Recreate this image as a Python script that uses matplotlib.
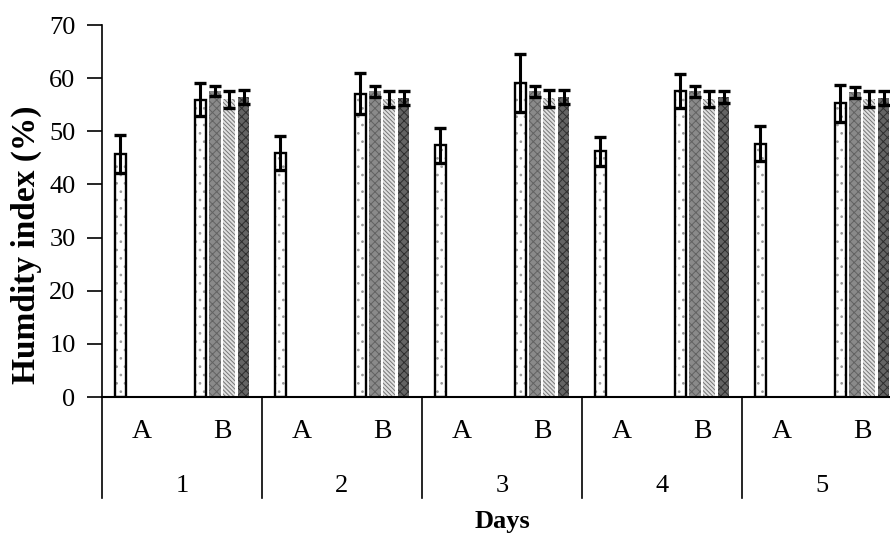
import matplotlib
matplotlib.use("Agg")
import matplotlib.pyplot as plt
import matplotlib.transforms as mtransforms
import numpy as np

plt.rcParams['font.family'] = ['Liberation Serif', 'DejaVu Serif']
plt.rcParams['hatch.linewidth'] = 0.7

# data
days = ['1', '2', '3', '4', '5']
groups = ['A', 'B']

# series 1 exists for A and B, series 2-4 only for B
s1_A = [45.7, 45.9, 47.4, 46.2, 47.7]
s1_A_err = [3.6, 3.2, 3.3, 2.8, 3.3]
s1_B = [55.9, 57.1, 59.1, 57.6, 55.3]
s1_B_err = [3.1, 3.8, 5.4, 3.2, 3.5]
s2_B = [57.6, 57.5, 57.5, 57.5, 57.3]
s2_B_err = [1.0, 1.0, 1.0, 1.0, 1.0]
s3_B = [56.0, 56.1, 56.2, 56.1, 56.1]
s3_B_err = [1.6, 1.5, 1.6, 1.5, 1.5]
s4_B = [56.4, 56.3, 56.4, 56.5, 56.2]
s4_B_err = [1.3, 1.3, 1.35, 1.1, 1.3]

# face, hatch, hatch colour for each series
styles = [
    ('white', '..', '#9a9a9a'),
    ('#8a8a8a', 'xxxx', '#626262'),
    ('#e0e0e0', '\\\\\\\\\\\\\\\\', '#777777'),
    ('#646464', 'xxxx', '#2e2e2e'),
]

fig = plt.figure(figsize=(8.9, 5.35), dpi=100)
ax = fig.add_axes([102/890, 1-397/535, 800/890, 372/535])

n_days = len(days)
xA = np.arange(n_days) * 2
xB = xA + 1
width = 0.145
step = 0.18
offsets = (np.arange(4) - 1.5) * step

def draw(x, vals, errs, k):
    face, hatch, hcol = styles[k]
    ax.bar(x, vals, width, color=face, hatch=hatch, edgecolor=hcol,
           linewidth=0, zorder=2)
    if k == 0:
        ax.bar(x, vals, width, fill=False, edgecolor='black',
               linewidth=1.7, zorder=3)
    ax.errorbar(x, vals, yerr=errs, fmt='none', ecolor='black',
                elinewidth=2.2, capsize=4, capthick=2.4, zorder=4)

draw(xA + offsets[0], s1_A, s1_A_err, 0)
draw(xB + offsets[0], s1_B, s1_B_err, 0)
draw(xB + offsets[1], s2_B, s2_B_err, 1)
draw(xB + offsets[2], s3_B, s3_B_err, 2)
draw(xB + offsets[3], s4_B, s4_B_err, 3)

ax.set_xlim(-0.5, 2 * n_days - 0.5)
ax.set_ylim(0, 70)
ax.set_yticks(np.arange(0, 71, 10))
ax.tick_params(axis='y', labelsize=19, length=11, width=1.2, direction='out', pad=8)
ax.set_xticks([])
for s in ['top', 'right']:
    ax.spines[s].set_visible(False)
ax.spines['left'].set_linewidth(1.2)
ax.spines['bottom'].set_linewidth(1.5)

trans = mtransforms.blended_transform_factory(ax.transData, ax.transAxes)
for i in range(n_days):
    ax.text(xA[i], -0.094, groups[0], transform=trans, ha='center', va='center', fontsize=20)
    ax.text(xB[i], -0.094, groups[1], transform=trans, ha='center', va='center', fontsize=20)
    ax.text((xA[i] + xB[i]) / 2, -0.238, days[i], transform=trans, ha='center', va='center', fontsize=19)
    ax.plot([xA[i] - 0.5, xA[i] - 0.5], [0, -0.272], transform=trans, color='black',
            linewidth=1.2, clip_on=False)

ax.text(0.5, -0.336, 'Days', transform=ax.transAxes, ha='center', va='center',
        fontsize=19, fontweight='bold')
ax.text(-0.094, 0.41, 'Humdity index (%)', transform=ax.transAxes, ha='center', va='center',
        rotation=90, fontsize=24, fontweight='bold')

fig.savefig('out.png', dpi=100)
